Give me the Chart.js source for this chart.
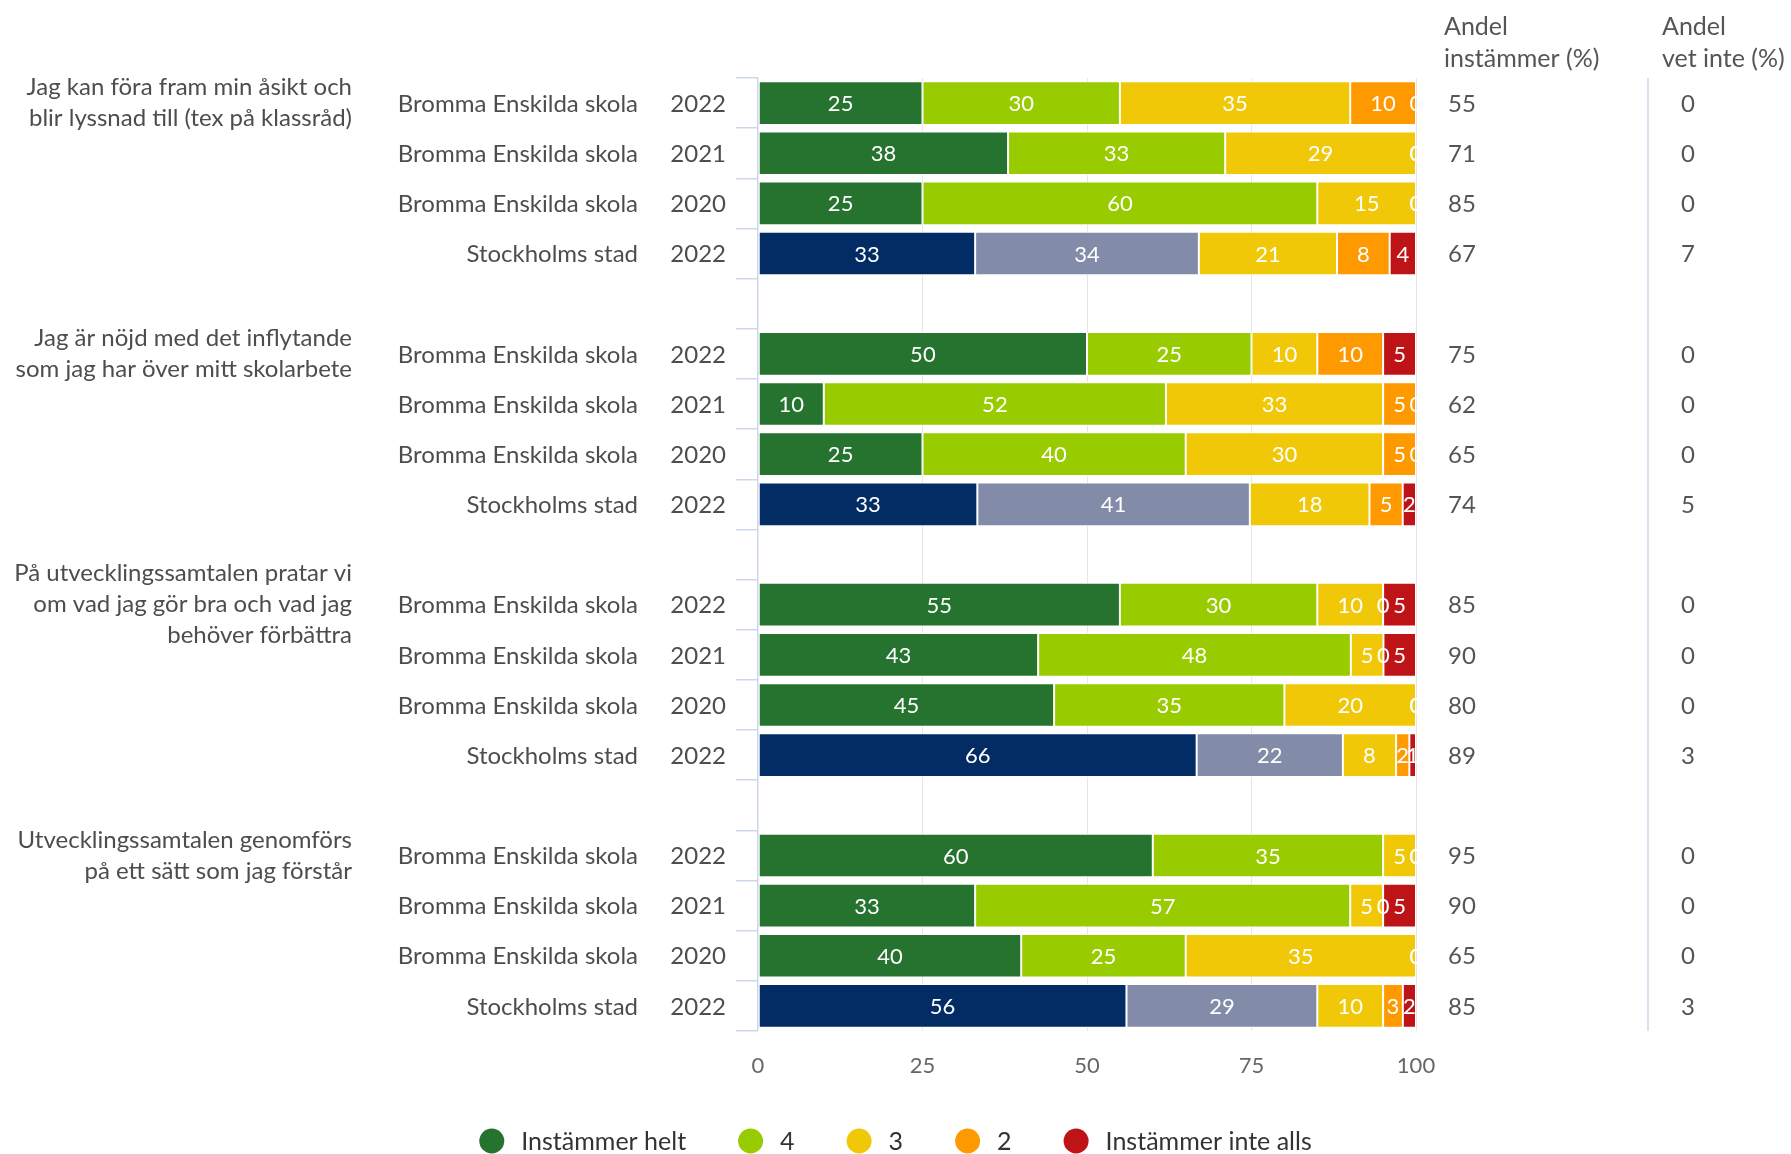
<!DOCTYPE html>
<html>
<head>
<meta charset="utf-8">
<script src="https://cdn.jsdelivr.net/npm/chart.js@4.4.1/dist/chart.umd.min.js"></script>
<style>
    html, body { margin: 0; padding: 0; background: #fff; }
    #wrap { width: 1791px; height: 1154px; position: relative; }
</style>
</head>
<body>
<div id="wrap"><canvas id="chart"></canvas></div>
<script>
// Questions (one per group) and the rows inside each group
const questions = [
    ['Jag kan föra fram min åsikt och', 'blir lyssnad till (tex på klassråd)'],
    ['Jag är nöjd med det inflytande', 'som jag har över mitt skolarbete'],
    ['På utvecklingssamtalen pratar vi', 'om vad jag gör bra och vad jag', 'behöver förbättra'],
    ['Utvecklingssamtalen genomförs', 'på ett sätt som jag förstår']
];
const units = ['Bromma Enskilda skola', 'Bromma Enskilda skola', 'Bromma Enskilda skola', 'Stockholms stad'];
const years = ['2022', '2021', '2020', '2022'];

// Answer shares per row (4 rows per question)
const helt     = [25, 38, 25, 33,  50, 10, 25, 33,  55, 43, 45, 66,  60, 33, 40, 56];
const fyra     = [30, 33, 60, 34,  25, 52, 40, 41,  30, 48, 35, 22,  35, 57, 25, 29];
const tre      = [35, 29, 15, 21,  10, 33, 30, 18,  10,  5, 20,  8,   5,  5, 35, 10];
const tva      = [10,  0,  0,  8,  10,  5,  5,  5,   0,  0,  0,  2,   0,  0,  0,  3];
const inteAlls = [ 0,  0,  0,  4,   5,  0,  0,  2,   5,  5,  0,  1,   0,  5,  0,  2];

// Right hand columns
const andelInstammer = [55, 71, 85, 67,  75, 62, 65, 74,  85, 90, 80, 89,  95, 90, 65, 85];
const andelVetInte   = [ 0,  0,  0,  7,   0,  0,  0,  5,   0,  0,  0,  3,   0,  0,  0,  3];

const xTicks = [0, 25, 50, 75, 100];
const legendLabels = ['Instämmer helt', '4', '3', '2', 'Instämmer inte alls'];
const schoolColors = ['#267330', '#99cc00', '#f0c808', '#ff9900', '#be1418'];
const cityColors   = ['#022c63', '#828ca8', '#f0c808', '#ff9900', '#be1418'];

const FONT = 'Lato, "Open Sans", sans-serif';
const ROWS = 4;

// Build 19 categories: 4 rows per question + an empty row between questions
const labels = [];
const rowIndex = [];
questions.forEach((q, g) => {
    for (let r = 0; r < ROWS; r++) {
        labels.push(units[r] + ' ' + years[r]);
        rowIndex.push(g * ROWS + r);
    }
    if (g < questions.length - 1) {
        labels.push('');
        rowIndex.push(null);
    }
});

const series = [helt, fyra, tre, tva, inteAlls];
// percent stacking: every row is scaled to fill 0-100
const rowSums = helt.map((_, i) => series.reduce((s, arr) => s + arr[i], 0));

function spread(values, scaled) {
    return rowIndex.map(i => {
        if (i === null) return null;
        return scaled ? values[i] / rowSums[i] * 100 : values[i];
    });
}
function colorsFor(k) {
    return rowIndex.map(i => (i !== null && i % ROWS === 3) ? cityColors[k] : schoolColors[k]);
}

const datasets = series.map((values, k) => ({
    label: legendLabels[k],
    data: spread(values, true),
    raw: spread(values, false),
    backgroundColor: colorsFor(k),
    borderColor: '#ffffff',
    borderWidth: 1,
    borderSkipped: false,
    barPercentage: 0.87,
    categoryPercentage: 1
}));

// Values written inside the bars
const barLabels = {
    id: 'barLabels',
    afterDatasetsDraw(chart) {
        const ctx = chart.ctx;
        const area = chart.chartArea;
        ctx.save();
        ctx.beginPath();
        ctx.rect(area.left, area.top, area.right - area.left + 1, area.bottom - area.top);
        ctx.clip();
        ctx.font = '22px ' + FONT;
        ctx.fillStyle = '#ffffff';
        ctx.textAlign = 'center';
        ctx.textBaseline = 'middle';
        chart.data.datasets.forEach((ds, d) => {
            chart.getDatasetMeta(d).data.forEach((bar, i) => {
                const v = ds.raw[i];
                if (v === null || v === undefined) return;
                ctx.fillText(String(v), (bar.x + bar.base) / 2, bar.y + 1);
            });
        });
        ctx.restore();
    }
};

// Category texts, question texts, right columns and legend
const sideTexts = {
    id: 'sideTexts',
    afterDraw(chart) {
        const ctx = chart.ctx;
        const y = chart.scales.y;
        const area = chart.chartArea;
        ctx.save();
        ctx.textBaseline = 'middle';

        rowIndex.forEach((i, c) => {
            if (i === null) return;
            const py = y.getPixelForValue(c) + 1;
            const r = i % ROWS;
            ctx.font = '24px ' + FONT;
            ctx.fillStyle = '#4d4d4d';
            ctx.textAlign = 'right';
            ctx.fillText(units[r], 638, py);
            ctx.fillText(years[r], 726, py);
            ctx.textAlign = 'left';
            ctx.fillStyle = '#555555';
            ctx.fillText(String(andelInstammer[i]), 1448, py);
            ctx.fillText(String(andelVetInte[i]), 1681, py);
        });

        // question text centred on the first row of its group
        ctx.font = '24px ' + FONT;
        ctx.fillStyle = '#4d4d4d';
        ctx.textAlign = 'right';
        questions.forEach((q, g) => {
            const py = y.getPixelForValue(g * (ROWS + 1));
            const lh = 31;
            q.forEach((line, l) => {
                ctx.fillText(line, 352, py + (l - (q.length - 1) / 2) * lh);
            });
        });

        // column headers
        ctx.font = '25px ' + FONT;
        ctx.fillStyle = '#555555';
        ctx.textAlign = 'left';
        ctx.fillText('Andel', 1444, 27);
        ctx.fillText('instämmer (%)', 1444, 59);
        ctx.fillText('Andel', 1662, 27);
        ctx.fillText('vet inte (%)', 1662, 59);

        // separator between the two columns
        ctx.strokeStyle = '#ccd6eb';
        ctx.lineWidth = 1.5;
        ctx.beginPath();
        ctx.moveTo(1648, area.top);
        ctx.lineTo(1648, area.bottom);
        ctx.stroke();

        // legend, centred on the canvas
        ctx.font = '25px ' + FONT;
        const rad = 12.5, gapText = 17, gapItem = 52;
        const widths = legendLabels.map(t => rad * 2 + gapText + ctx.measureText(t).width);
        const total = widths.reduce((a, b) => a + b, 0) + gapItem * (widths.length - 1);
        let lx = (chart.width - total) / 2;
        const ly = 1141;
        legendLabels.forEach((t, k) => {
            ctx.fillStyle = schoolColors[k];
            ctx.beginPath();
            ctx.arc(lx + rad, ly, rad, 0, Math.PI * 2);
            ctx.fill();
            ctx.fillStyle = '#333333';
            ctx.textAlign = 'left';
            ctx.fillText(t, lx + rad * 2 + gapText, ly + 1);
            lx += widths[k] + gapItem;
        });
        ctx.restore();
    }
};

new Chart(document.getElementById('chart'), {
    type: 'bar',
    data: { labels: labels, datasets: datasets },
    options: {
        indexAxis: 'y',
        responsive: true,
        maintainAspectRatio: false,
        animation: false,
        layout: { padding: { top: 78, bottom: 63, left: 736, right: 375 } },
        plugins: {
            legend: { display: false },
            tooltip: { enabled: false }
        },
        scales: {
            x: {
                stacked: true,
                min: 0,
                max: 100,
                afterBuildTicks: scale => { scale.ticks = xTicks.map(v => ({ value: v })); },
                afterFit: scale => { scale.height = 60; },
                grid: {
                    drawTicks: false,
                    color: c => c.tick && c.tick.value === 0 ? '#ccd6eb' : '#e6e6e6',
                    lineWidth: c => c.tick && c.tick.value === 0 ? 1.5 : 1
                },
                border: { display: false },
                ticks: {
                    padding: 22,
                    color: '#666666',
                    font: { family: FONT, size: 22 }
                }
            },
            y: {
                stacked: true,
                afterFit: scale => { scale.width = 22; },
                grid: {
                    offset: true,
                    drawOnChartArea: false,
                    drawTicks: true,
                    tickLength: 22,
                    color: '#ccd6eb',
                    lineWidth: 1.5
                },
                border: { display: false },
                ticks: { display: false }
            }
        }
    },
    plugins: [barLabels, sideTexts]
});
</script>
</body>
</html>
